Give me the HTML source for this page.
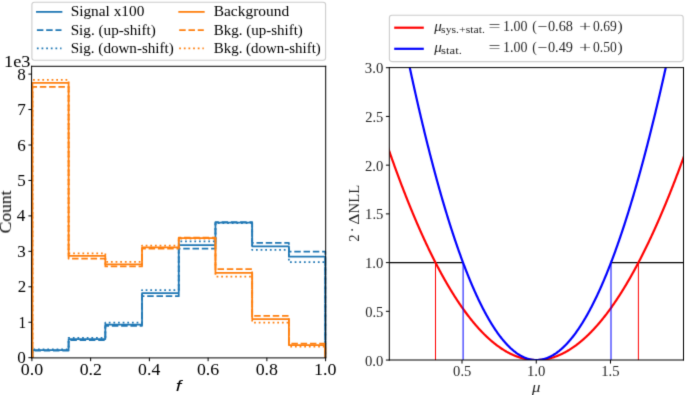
<!DOCTYPE html>
<html><head><meta charset="utf-8"><style>
html,body{margin:0;padding:0;background:#fff;width:685px;height:395px;overflow:hidden}
text{white-space:pre}
</style></head><body><div id="w" style="width:685px;height:395px">
<svg width="685" height="395" viewBox="0 0 685 395" style="display:block;will-change:transform">
<defs><filter id="bl" x="0" y="0" width="685" height="395" filterUnits="userSpaceOnUse" color-interpolation-filters="sRGB"><feConvolveMatrix order="3" kernelMatrix="0.01440 0.09120 0.01440 0.09120 0.57760 0.09120 0.01440 0.09120 0.01440" divisor="1" edgeMode="duplicate" preserveAlpha="true"/></filter></defs>
<rect width="685" height="395" fill="#fff"/>
<g filter="url(#bl)"><rect width="685" height="395" fill="#fff"/>
<defs><clipPath id="cl"><rect x="31.9" y="66.4" width="293.70000000000005" height="291.29999999999995"/></clipPath><clipPath id="cr"><rect x="389.4" y="67.6" width="294.0" height="292.45"/></clipPath></defs>
<g fill="none" stroke-linejoin="round">
<path d="M32.40,357.70 V350.00 H68.61 V339.10 H105.33 V324.50 H142.04 V293.10 H178.75 V245.00 H215.46 V222.50 H252.18 V246.30 H288.89 V256.70 H325.30 V357.70" stroke="#1f77b4" stroke-width="1.75" />
<path d="M32.40,357.70 V350.50 H68.61 V340.00 H105.33 V325.80 H142.04 V296.20 H178.75 V248.70 H215.46 V222.10 H252.18 V242.90 H288.89 V251.50 H325.30 V357.70" stroke="#1f77b4" stroke-width="1.75" stroke-dasharray="6.48 2.80"/>
<path d="M32.40,357.70 V349.40 H68.61 V337.80 H105.33 V322.70 H142.04 V290.00 H178.75 V241.25 H215.46 V223.00 H252.18 V249.85 H288.89 V262.20 H325.30 V357.70" stroke="#1f77b4" stroke-width="1.75" stroke-dasharray="1.75 2.89"/>
<path d="M32.40,357.70 V82.95 H68.61 V255.90 H105.33 V264.30 H142.04 V247.30 H178.75 V238.20 H215.46 V272.90 H252.18 V319.00 H288.89 V345.10 H325.30 V357.70" stroke="#ff7f0e" stroke-width="1.75" />
<path d="M32.40,357.70 V86.75 H68.61 V258.70 H105.33 V266.40 H142.04 V248.60 H178.75 V237.60 H215.46 V269.05 H252.18 V315.90 H288.89 V343.70 H325.30 V357.70" stroke="#ff7f0e" stroke-width="1.75" stroke-dasharray="6.48 2.80"/>
<path d="M32.40,357.70 V79.95 H68.61 V253.30 H105.33 V261.90 H142.04 V245.60 H178.75 V238.50 H215.46 V276.50 H252.18 V322.50 H288.89 V346.60 H325.30 V357.70" stroke="#ff7f0e" stroke-width="1.75" stroke-dasharray="1.75 2.89"/>
</g>
<path d="M31.1,66.3 H326.2 M31.1,357.9 H326.2 M31.6,65.8 V358.4 M325.7,65.8 V358.4" fill="none" stroke="#000" stroke-width="1.0"/>
<path d="M31.90,357.70 v3.5 M90.64,357.70 v3.5 M149.38,357.70 v3.5 M208.12,357.70 v3.5 M266.86,357.70 v3.5 M325.60,357.70 v3.5 M31.90,357.70 h-3.5 M31.90,322.25 h-3.5 M31.90,286.80 h-3.5 M31.90,251.35 h-3.5 M31.90,215.90 h-3.5 M31.90,180.45 h-3.5 M31.90,145.00 h-3.5 M31.90,109.55 h-3.5 M31.90,74.10 h-3.5" stroke="#000" stroke-width="1.0" fill="none"/>
<text x="20.72" y="374.80" font-size="16.00" font-family="Liberation Serif" font-style="normal" textLength="22.36" lengthAdjust="spacingAndGlyphs" fill="#000" >0.0</text>
<text x="79.69" y="374.80" font-size="16.00" font-family="Liberation Serif" font-style="normal" textLength="22.19" lengthAdjust="spacingAndGlyphs" fill="#000" >0.2</text>
<text x="138.09" y="374.80" font-size="16.00" font-family="Liberation Serif" font-style="normal" textLength="22.18" lengthAdjust="spacingAndGlyphs" fill="#000" >0.4</text>
<text x="196.92" y="374.80" font-size="16.00" font-family="Liberation Serif" font-style="normal" textLength="22.25" lengthAdjust="spacingAndGlyphs" fill="#000" >0.6</text>
<text x="255.69" y="374.80" font-size="16.00" font-family="Liberation Serif" font-style="normal" textLength="22.34" lengthAdjust="spacingAndGlyphs" fill="#000" >0.8</text>
<text x="313.93" y="374.80" font-size="16.00" font-family="Liberation Serif" font-style="normal" textLength="22.45" lengthAdjust="spacingAndGlyphs" fill="#000" >1.0</text>
<text x="17.29" y="363.25" font-size="16.00" font-family="Liberation Serif" font-style="normal" textLength="8.56" lengthAdjust="spacingAndGlyphs" fill="#000" >0</text>
<text x="18.50" y="327.80" font-size="16.00" font-family="Liberation Serif" font-style="normal" textLength="7.61" lengthAdjust="spacingAndGlyphs" fill="#000" >1</text>
<text x="17.69" y="292.35" font-size="16.00" font-family="Liberation Serif" font-style="normal" textLength="8.45" lengthAdjust="spacingAndGlyphs" fill="#000" >2</text>
<text x="17.39" y="256.90" font-size="16.00" font-family="Liberation Serif" font-style="normal" textLength="8.47" lengthAdjust="spacingAndGlyphs" fill="#000" >3</text>
<text x="16.87" y="221.45" font-size="16.00" font-family="Liberation Serif" font-style="normal" textLength="8.60" lengthAdjust="spacingAndGlyphs" fill="#000" >4</text>
<text x="17.39" y="186.00" font-size="16.00" font-family="Liberation Serif" font-style="normal" textLength="8.47" lengthAdjust="spacingAndGlyphs" fill="#000" >5</text>
<text x="17.18" y="150.55" font-size="16.00" font-family="Liberation Serif" font-style="normal" textLength="8.53" lengthAdjust="spacingAndGlyphs" fill="#000" >6</text>
<text x="17.16" y="115.10" font-size="16.00" font-family="Liberation Serif" font-style="normal" textLength="8.53" lengthAdjust="spacingAndGlyphs" fill="#000" >7</text>
<text x="17.32" y="79.65" font-size="16.00" font-family="Liberation Serif" font-style="normal" textLength="8.53" lengthAdjust="spacingAndGlyphs" fill="#000" >8</text>
<text x="4.10" y="67.00" font-size="16.00" font-family="Liberation Serif" font-style="normal" textLength="26.33" lengthAdjust="spacingAndGlyphs" fill="#000" >1e3</text>
<text transform="translate(11.00,233.42) rotate(-90)" x="0" y="0" font-size="16.00" font-family="Liberation Serif" font-style="normal" textLength="42.92" lengthAdjust="spacingAndGlyphs" fill="#000" >Count</text>
<text x="175.83" y="390.80" font-size="15.00" font-family="Liberation Sans" font-style="italic" textLength="5.55" lengthAdjust="spacingAndGlyphs" fill="#000" >f</text>
<rect x="31.9" y="2.3" width="293.7" height="57.9" rx="2.5" fill="#fff" fill-opacity="0.8" stroke="#cccccc" stroke-width="1.1"/>
<path d="M36.9,11.9 h24.6" stroke="#1f77b4" stroke-width="1.75" stroke-linecap="square" fill="none"/>
<text x="70.67" y="16.40" font-size="13.60" font-family="Liberation Serif" font-style="normal" textLength="73.68" lengthAdjust="spacingAndGlyphs" fill="#000" >Signal x100</text>
<path d="M179.2,11.9 h24.6" stroke="#ff7f0e" stroke-width="1.75" stroke-linecap="square" fill="none"/>
<text x="213.76" y="16.40" font-size="13.60" font-family="Liberation Serif" font-style="normal" textLength="75.36" lengthAdjust="spacingAndGlyphs" fill="#000" >Background</text>
<path d="M36.9,30.1 h24.6" stroke="#1f77b4" stroke-width="1.75" stroke-dasharray="6.48 2.80" fill="none"/>
<text x="70.68" y="34.60" font-size="13.60" font-family="Liberation Serif" font-style="normal" textLength="85.14" lengthAdjust="spacingAndGlyphs" fill="#000" >Sig. (up-shift)</text>
<path d="M179.2,30.1 h24.6" stroke="#ff7f0e" stroke-width="1.75" stroke-dasharray="6.48 2.80" fill="none"/>
<text x="213.77" y="34.60" font-size="13.60" font-family="Liberation Serif" font-style="normal" textLength="89.05" lengthAdjust="spacingAndGlyphs" fill="#000" >Bkg. (up-shift)</text>
<path d="M36.9,48.4 h24.6" stroke="#1f77b4" stroke-width="1.75" stroke-dasharray="1.75 2.89" fill="none"/>
<text x="70.69" y="52.80" font-size="13.60" font-family="Liberation Serif" font-style="normal" textLength="103.11" lengthAdjust="spacingAndGlyphs" fill="#000" >Sig. (down-shift)</text>
<path d="M179.2,48.4 h24.6" stroke="#ff7f0e" stroke-width="1.75" stroke-dasharray="1.75 2.89" fill="none"/>
<text x="213.77" y="52.80" font-size="13.60" font-family="Liberation Serif" font-style="normal" textLength="107.02" lengthAdjust="spacingAndGlyphs" fill="#000" >Bkg. (down-shift)</text>
<g clip-path="url(#cr)" fill="none">
<path d="M389.4,262.60 H463.04 M611.00,262.60 H683.4" stroke="#000" stroke-width="1.1"/>
<polyline points="387.75,146.80 388.12,147.88 388.49,148.95 388.86,150.03 389.24,151.09 389.61,152.16 389.98,153.22 390.35,154.28 390.72,155.34 391.09,156.40 391.46,157.45 391.83,158.50 392.20,159.54 392.58,160.59 392.95,161.63 393.32,162.67 393.69,163.70 394.06,164.73 394.43,165.76 394.80,166.79 395.18,167.81 395.55,168.84 395.92,169.85 396.29,170.87 396.66,171.88 397.03,172.89 397.40,173.90 397.77,174.91 398.14,175.91 398.52,176.91 398.89,177.90 399.26,178.90 399.63,179.89 400.00,180.88 400.37,181.86 400.74,182.84 401.12,183.82 401.49,184.80 401.86,185.77 402.23,186.75 402.60,187.71 402.97,188.68 403.34,189.64 403.71,190.60 404.08,191.56 404.46,192.52 404.83,193.47 405.20,194.42 405.57,195.36 405.94,196.31 406.31,197.25 406.68,198.19 407.06,199.12 407.43,200.06 407.80,200.98 408.17,201.91 408.54,202.84 408.91,203.76 409.28,204.68 409.65,205.59 410.02,206.51 410.40,207.42 410.77,208.33 411.14,209.23 411.51,210.13 411.88,211.03 412.25,211.93 412.62,212.82 413.00,213.71 413.37,214.60 413.74,215.49 414.11,216.37 414.48,217.25 414.85,218.13 415.22,219.00 415.59,219.88 415.97,220.75 416.34,221.61 416.71,222.48 417.08,223.34 417.45,224.20 417.82,225.05 418.19,225.90 418.56,226.75 418.94,227.60 419.31,228.45 419.68,229.29 420.05,230.13 420.42,230.96 420.79,231.80 421.16,232.63 421.53,233.45 421.90,234.28 422.28,235.10 422.65,235.92 423.02,236.74 423.39,237.55 423.76,238.37 424.13,239.17 424.50,239.98 424.88,240.78 425.25,241.58 425.62,242.38 425.99,243.18 426.36,243.97 426.73,244.76 427.10,245.55 427.47,246.33 427.85,247.11 428.22,247.89 428.59,248.67 428.96,249.44 429.33,250.21 429.70,250.98 430.07,251.74 430.44,252.50 430.81,253.26 431.19,254.02 431.56,254.78 431.93,255.53 432.30,256.27 432.67,257.02 433.04,257.76 433.41,258.50 433.79,259.24 434.16,259.98 434.53,260.71 434.90,261.44 435.27,262.17 435.64,262.89 436.01,263.61 436.38,264.33 436.75,265.04 437.13,265.76 437.50,266.47 437.87,267.18 438.24,267.88 438.61,268.58 438.98,269.28 439.35,269.98 439.73,270.67 440.10,271.36 440.47,272.05 440.84,272.74 441.21,273.42 441.58,274.10 441.95,274.78 442.32,275.46 442.69,276.13 443.07,276.80 443.44,277.46 443.81,278.13 444.18,278.79 444.55,279.45 444.92,280.10 445.29,280.76 445.67,281.41 446.04,282.06 446.41,282.70 446.78,283.34 447.15,283.98 447.52,284.62 447.89,285.25 448.26,285.89 448.63,286.51 449.01,287.14 449.38,287.76 449.75,288.38 450.12,289.00 450.49,289.62 450.86,290.23 451.23,290.84 451.61,291.45 451.98,292.05 452.35,292.65 452.72,293.25 453.09,293.85 453.46,294.44 453.83,295.03 454.20,295.62 454.57,296.21 454.95,296.79 455.32,297.37 455.69,297.95 456.06,298.52 456.43,299.09 456.80,299.66 457.17,300.23 457.55,300.79 457.92,301.35 458.29,301.91 458.66,302.47 459.03,303.02 459.40,303.57 459.77,304.12 460.14,304.66 460.51,305.21 460.89,305.74 461.26,306.28 461.63,306.82 462.00,307.35 462.37,307.88 462.74,308.40 463.11,308.93 463.49,309.45 463.86,309.96 464.23,310.48 464.60,310.99 464.97,311.50 465.34,312.01 465.71,312.51 466.08,313.01 466.45,313.51 466.83,314.01 467.20,314.50 467.57,315.00 467.94,315.48 468.31,315.97 468.68,316.45 469.05,316.93 469.43,317.41 469.80,317.88 470.17,318.36 470.54,318.83 470.91,319.29 471.28,319.76 471.65,320.22 472.02,320.68 472.39,321.13 472.77,321.59 473.14,322.04 473.51,322.49 473.88,322.93 474.25,323.37 474.62,323.81 474.99,324.25 475.37,324.69 475.74,325.12 476.11,325.55 476.48,325.97 476.85,326.40 477.22,326.82 477.59,327.24 477.96,327.65 478.33,328.07 478.71,328.48 479.08,328.89 479.45,329.29 479.82,329.69 480.19,330.09 480.56,330.49 480.93,330.88 481.31,331.28 481.68,331.67 482.05,332.05 482.42,332.44 482.79,332.82 483.16,333.20 483.53,333.57 483.90,333.94 484.27,334.32 484.65,334.68 485.02,335.05 485.39,335.41 485.76,335.77 486.13,336.13 486.50,336.48 486.87,336.83 487.25,337.18 487.62,337.53 487.99,337.87 488.36,338.21 488.73,338.55 489.10,338.89 489.47,339.22 489.84,339.55 490.22,339.88 490.59,340.21 490.96,340.53 491.33,340.85 491.70,341.16 492.07,341.48 492.44,341.79 492.81,342.10 493.19,342.41 493.56,342.71 493.93,343.01 494.30,343.31 494.67,343.61 495.04,343.90 495.41,344.19 495.78,344.48 496.15,344.76 496.53,345.05 496.90,345.33 497.27,345.60 497.64,345.88 498.01,346.15 498.38,346.42 498.75,346.69 499.12,346.95 499.50,347.21 499.87,347.47 500.24,347.73 500.61,347.98 500.98,348.23 501.35,348.48 501.72,348.72 502.10,348.97 502.47,349.21 502.84,349.45 503.21,349.68 503.58,349.91 503.95,350.14 504.32,350.37 504.69,350.59 505.06,350.82 505.44,351.03 505.81,351.25 506.18,351.46 506.55,351.68 506.92,351.88 507.29,352.09 507.66,352.29 508.04,352.49 508.41,352.69 508.78,352.89 509.15,353.08 509.52,353.27 509.89,353.46 510.26,353.64 510.63,353.82 511.00,354.00 511.38,354.18 511.75,354.36 512.12,354.53 512.49,354.70 512.86,354.86 513.23,355.03 513.60,355.19 513.98,355.35 514.35,355.50 514.72,355.65 515.09,355.80 515.46,355.95 515.83,356.10 516.20,356.24 516.57,356.38 516.95,356.52 517.32,356.65 517.69,356.78 518.06,356.91 518.43,357.04 518.80,357.17 519.17,357.29 519.54,357.41 519.91,357.52 520.29,357.64 520.66,357.75 521.03,357.86 521.40,357.96 521.77,358.06 522.14,358.17 522.51,358.26 522.88,358.36 523.26,358.45 523.63,358.54 524.00,358.63 524.37,358.71 524.74,358.80 525.11,358.88 525.48,358.95 525.86,359.03 526.23,359.10 526.60,359.17 526.97,359.23 527.34,359.30 527.71,359.36 528.08,359.42 528.45,359.47 528.83,359.53 529.20,359.58 529.57,359.63 529.94,359.67 530.31,359.72 530.68,359.76 531.05,359.79 531.42,359.83 531.79,359.86 532.17,359.89 532.54,359.92 532.91,359.94 533.28,359.97 533.65,359.99 534.02,360.00 534.39,360.02 534.76,360.03 535.14,360.04 535.51,360.04 535.88,360.05 536.25,360.05 536.62,360.05 536.99,360.04 537.36,360.04 537.74,360.03 538.11,360.02 538.48,360.00 538.85,359.99 539.22,359.97 539.59,359.95 539.96,359.92 540.33,359.89 540.71,359.86 541.08,359.83 541.45,359.80 541.82,359.76 542.19,359.72 542.56,359.68 542.93,359.63 543.30,359.59 543.67,359.54 544.05,359.48 544.42,359.43 544.79,359.37 545.16,359.31 545.53,359.25 545.90,359.18 546.27,359.11 546.64,359.04 547.02,358.97 547.39,358.89 547.76,358.81 548.13,358.73 548.50,358.65 548.87,358.56 549.24,358.47 549.62,358.38 549.99,358.29 550.36,358.19 550.73,358.09 551.10,357.99 551.47,357.89 551.84,357.78 552.21,357.67 552.59,357.56 552.96,357.44 553.33,357.33 553.70,357.21 554.07,357.09 554.44,356.96 554.81,356.83 555.18,356.70 555.56,356.57 555.93,356.44 556.30,356.30 556.67,356.16 557.04,356.01 557.41,355.87 557.78,355.72 558.15,355.57 558.52,355.42 558.90,355.26 559.27,355.10 559.64,354.94 560.01,354.78 560.38,354.61 560.75,354.45 561.12,354.27 561.50,354.10 561.87,353.92 562.24,353.75 562.61,353.56 562.98,353.38 563.35,353.19 563.72,353.00 564.09,352.81 564.47,352.62 564.84,352.42 565.21,352.22 565.58,352.02 565.95,351.81 566.32,351.61 566.69,351.40 567.06,351.19 567.43,350.97 567.81,350.75 568.18,350.53 568.55,350.31 568.92,350.09 569.29,349.86 569.66,349.63 570.03,349.39 570.40,349.16 570.78,348.92 571.15,348.68 571.52,348.44 571.89,348.19 572.26,347.94 572.63,347.69 573.00,347.44 573.38,347.18 573.75,346.92 574.12,346.66 574.49,346.40 574.86,346.13 575.23,345.86 575.60,345.59 575.97,345.32 576.35,345.04 576.72,344.76 577.09,344.48 577.46,344.20 577.83,343.91 578.20,343.62 578.57,343.33 578.94,343.03 579.32,342.74 579.69,342.44 580.06,342.13 580.43,341.83 580.80,341.52 581.17,341.21 581.54,340.90 581.91,340.58 582.28,340.27 582.66,339.94 583.03,339.62 583.40,339.30 583.77,338.97 584.14,338.64 584.51,338.30 584.88,337.97 585.25,337.63 585.63,337.29 586.00,336.95 586.37,336.60 586.74,336.25 587.11,335.90 587.48,335.55 587.85,335.19 588.23,334.83 588.60,334.47 588.97,334.10 589.34,333.74 589.71,333.37 590.08,333.00 590.45,332.62 590.82,332.25 591.20,331.87 591.57,331.48 591.94,331.10 592.31,330.71 592.68,330.32 593.05,329.93 593.42,329.53 593.79,329.14 594.16,328.74 594.54,328.33 594.91,327.93 595.28,327.52 595.65,327.11 596.02,326.70 596.39,326.28 596.76,325.86 597.13,325.44 597.51,325.02 597.88,324.59 598.25,324.16 598.62,323.73 598.99,323.30 599.36,322.86 599.73,322.42 600.11,321.98 600.48,321.54 600.85,321.09 601.22,320.64 601.59,320.19 601.96,319.74 602.33,319.28 602.70,318.82 603.08,318.36 603.45,317.90 603.82,317.43 604.19,316.96 604.56,316.49 604.93,316.01 605.30,315.53 605.67,315.05 606.04,314.57 606.42,314.09 606.79,313.60 607.16,313.11 607.53,312.62 607.90,312.12 608.27,311.62 608.64,311.12 609.01,310.62 609.39,310.11 609.76,309.61 610.13,309.09 610.50,308.58 610.87,308.07 611.24,307.55 611.61,307.03 611.99,306.50 612.36,305.98 612.73,305.45 613.10,304.92 613.47,304.38 613.84,303.84 614.21,303.31 614.58,302.76 614.96,302.22 615.33,301.67 615.70,301.12 616.07,300.57 616.44,300.02 616.81,299.46 617.18,298.90 617.55,298.34 617.92,297.77 618.30,297.21 618.67,296.64 619.04,296.06 619.41,295.49 619.78,294.91 620.15,294.33 620.52,293.75 620.89,293.16 621.27,292.57 621.64,291.98 622.01,291.39 622.38,290.79 622.75,290.20 623.12,289.59 623.49,288.99 623.87,288.38 624.24,287.78 624.61,287.16 624.98,286.55 625.35,285.93 625.72,285.32 626.09,284.69 626.46,284.07 626.84,283.44 627.21,282.81 627.58,282.18 627.95,281.55 628.32,280.91 628.69,280.27 629.06,279.63 629.43,278.99 629.81,278.34 630.18,277.69 630.55,277.04 630.92,276.38 631.29,275.72 631.66,275.06 632.03,274.40 632.40,273.74 632.77,273.07 633.15,272.40 633.52,271.72 633.89,271.05 634.26,270.37 634.63,269.69 635.00,269.01 635.37,268.32 635.75,267.63 636.12,266.94 636.49,266.25 636.86,265.55 637.23,264.85 637.60,264.15 637.97,263.45 638.34,262.74 638.72,262.03 639.09,261.32 639.46,260.61 639.83,259.89 640.20,259.17 640.57,258.45 640.94,257.72 641.31,257.00 641.68,256.27 642.06,255.54 642.43,254.80 642.80,254.06 643.17,253.32 643.54,252.58 643.91,251.84 644.28,251.09 644.65,250.34 645.03,249.59 645.40,248.83 645.77,248.07 646.14,247.31 646.51,246.55 646.88,245.78 647.25,245.02 647.62,244.24 648.00,243.47 648.37,242.70 648.74,241.92 649.11,241.14 649.48,240.35 649.85,239.57 650.22,238.78 650.60,237.99 650.97,237.19 651.34,236.40 651.71,235.60 652.08,234.80 652.45,233.99 652.82,233.18 653.19,232.37 653.57,231.56 653.94,230.75 654.31,229.93 654.68,229.11 655.05,228.29 655.42,227.46 655.79,226.64 656.16,225.81 656.53,224.97 656.91,224.14 657.28,223.30 657.65,222.46 658.02,221.62 658.39,220.77 658.76,219.93 659.13,219.08 659.50,218.22 659.88,217.37 660.25,216.51 660.62,215.65 660.99,214.78 661.36,213.92 661.73,213.05 662.10,212.18 662.48,211.30 662.85,210.43 663.22,209.55 663.59,208.67 663.96,207.78 664.33,206.90 664.70,206.01 665.07,205.12 665.45,204.22 665.82,203.33 666.19,202.43 666.56,201.52 666.93,200.62 667.30,199.71 667.67,198.80 668.04,197.89 668.41,196.98 668.79,196.06 669.16,195.14 669.53,194.22 669.90,193.29 670.27,192.36 670.64,191.43 671.01,190.50 671.38,189.56 671.76,188.63 672.13,187.69 672.50,186.74 672.87,185.80 673.24,184.85 673.61,183.90 673.98,182.94 674.36,181.99 674.73,181.03 675.10,180.07 675.47,179.10 675.84,178.14 676.21,177.17 676.58,176.20 676.95,175.22 677.33,174.25 677.70,173.27 678.07,172.29 678.44,171.30 678.81,170.32 679.18,169.33 679.55,168.33 679.92,167.34 680.29,166.34 680.67,165.34 681.04,164.34 681.41,163.33 681.78,162.33 682.15,161.32 682.52,160.30 682.89,159.29 683.26,158.27 683.64,157.25 684.01,156.23 684.38,155.20 684.75,154.17" stroke="#ff0000" stroke-width="2.2" stroke-linejoin="round"/>
<path d="M435.5,262.60 V360.05 M638.4,262.60 V360.05" stroke="#ff0000" stroke-width="1.0"/>
<path d="M463.1,262.60 V360.05 M611.0,262.60 V360.05" stroke="#0000ff" stroke-width="1.0"/>
<polyline points="403.71,38.81 404.08,40.62 404.46,42.42 404.83,44.22 405.20,46.02 405.57,47.80 405.94,49.59 406.31,51.36 406.68,53.14 407.06,54.90 407.43,56.67 407.80,58.42 408.17,60.18 408.54,61.92 408.91,63.66 409.28,65.40 409.65,67.13 410.02,68.86 410.40,70.58 410.77,72.29 411.14,74.00 411.51,75.71 411.88,77.41 412.25,79.10 412.62,80.79 413.00,82.48 413.37,84.16 413.74,85.83 414.11,87.50 414.48,89.17 414.85,90.83 415.22,92.48 415.59,94.13 415.97,95.77 416.34,97.41 416.71,99.04 417.08,100.67 417.45,102.29 417.82,103.91 418.19,105.52 418.56,107.13 418.94,108.73 419.31,110.33 419.68,111.92 420.05,113.51 420.42,115.09 420.79,116.67 421.16,118.24 421.53,119.81 421.90,121.37 422.28,122.92 422.65,124.47 423.02,126.02 423.39,127.56 423.76,129.10 424.13,130.63 424.50,132.15 424.88,133.67 425.25,135.19 425.62,136.70 425.99,138.20 426.36,139.70 426.73,141.19 427.10,142.68 427.47,144.17 427.85,145.65 428.22,147.12 428.59,148.59 428.96,150.05 429.33,151.51 429.70,152.96 430.07,154.41 430.44,155.85 430.81,157.29 431.19,158.73 431.56,160.15 431.93,161.58 432.30,162.99 432.67,164.40 433.04,165.81 433.41,167.21 433.79,168.61 434.16,170.00 434.53,171.39 434.90,172.77 435.27,174.15 435.64,175.52 436.01,176.88 436.38,178.24 436.75,179.60 437.13,180.95 437.50,182.30 437.87,183.64 438.24,184.97 438.61,186.30 438.98,187.63 439.35,188.95 439.73,190.26 440.10,191.57 440.47,192.88 440.84,194.18 441.21,195.47 441.58,196.76 441.95,198.04 442.32,199.32 442.69,200.60 443.07,201.86 443.44,203.13 443.81,204.39 444.18,205.64 444.55,206.89 444.92,208.13 445.29,209.37 445.67,210.60 446.04,211.83 446.41,213.05 446.78,214.27 447.15,215.48 447.52,216.69 447.89,217.89 448.26,219.09 448.63,220.28 449.01,221.47 449.38,222.65 449.75,223.83 450.12,225.00 450.49,226.17 450.86,227.33 451.23,228.48 451.61,229.64 451.98,230.78 452.35,231.92 452.72,233.06 453.09,234.19 453.46,235.32 453.83,236.44 454.20,237.55 454.57,238.66 454.95,239.77 455.32,240.87 455.69,241.96 456.06,243.05 456.43,244.14 456.80,245.22 457.17,246.29 457.55,247.36 457.92,248.43 458.29,249.49 458.66,250.54 459.03,251.59 459.40,252.64 459.77,253.67 460.14,254.71 460.51,255.74 460.89,256.76 461.26,257.78 461.63,258.79 462.00,259.80 462.37,260.81 462.74,261.80 463.11,262.80 463.49,263.79 463.86,264.77 464.23,265.75 464.60,266.72 464.97,267.69 465.34,268.65 465.71,269.61 466.08,270.56 466.45,271.51 466.83,272.45 467.20,273.39 467.57,274.32 467.94,275.25 468.31,276.17 468.68,277.09 469.05,278.00 469.43,278.91 469.80,279.81 470.17,280.71 470.54,281.60 470.91,282.49 471.28,283.37 471.65,284.24 472.02,285.12 472.39,285.98 472.77,286.84 473.14,287.70 473.51,288.55 473.88,289.40 474.25,290.24 474.62,291.08 474.99,291.91 475.37,292.73 475.74,293.55 476.11,294.37 476.48,295.18 476.85,295.99 477.22,296.79 477.59,297.58 477.96,298.37 478.33,299.16 478.71,299.94 479.08,300.71 479.45,301.48 479.82,302.25 480.19,303.01 480.56,303.76 480.93,304.51 481.31,305.26 481.68,306.00 482.05,306.73 482.42,307.46 482.79,308.19 483.16,308.91 483.53,309.62 483.90,310.33 484.27,311.04 484.65,311.74 485.02,312.43 485.39,313.12 485.76,313.80 486.13,314.48 486.50,315.16 486.87,315.83 487.25,316.49 487.62,317.15 487.99,317.80 488.36,318.45 488.73,319.10 489.10,319.74 489.47,320.37 489.84,321.00 490.22,321.62 490.59,322.24 490.96,322.85 491.33,323.46 491.70,324.07 492.07,324.66 492.44,325.26 492.81,325.85 493.19,326.43 493.56,327.01 493.93,327.58 494.30,328.15 494.67,328.71 495.04,329.27 495.41,329.82 495.78,330.37 496.15,330.92 496.53,331.45 496.90,331.99 497.27,332.52 497.64,333.04 498.01,333.56 498.38,334.07 498.75,334.58 499.12,335.08 499.50,335.58 499.87,336.07 500.24,336.56 500.61,337.04 500.98,337.52 501.35,337.99 501.72,338.46 502.10,338.92 502.47,339.38 502.84,339.83 503.21,340.28 503.58,340.72 503.95,341.16 504.32,341.59 504.69,342.02 505.06,342.44 505.44,342.86 505.81,343.27 506.18,343.68 506.55,344.08 506.92,344.48 507.29,344.87 507.66,345.26 508.04,345.64 508.41,346.02 508.78,346.39 509.15,346.76 509.52,347.12 509.89,347.48 510.26,347.83 510.63,348.18 511.00,348.52 511.38,348.85 511.75,349.19 512.12,349.51 512.49,349.84 512.86,350.15 513.23,350.46 513.60,350.77 513.98,351.07 514.35,351.37 514.72,351.66 515.09,351.95 515.46,352.23 515.83,352.51 516.20,352.78 516.57,353.05 516.95,353.31 517.32,353.57 517.69,353.82 518.06,354.07 518.43,354.31 518.80,354.54 519.17,354.78 519.54,355.00 519.91,355.23 520.29,355.44 520.66,355.65 521.03,355.86 521.40,356.06 521.77,356.26 522.14,356.45 522.51,356.64 522.88,356.82 523.26,357.00 523.63,357.17 524.00,357.34 524.37,357.50 524.74,357.66 525.11,357.81 525.48,357.96 525.86,358.10 526.23,358.23 526.60,358.37 526.97,358.49 527.34,358.62 527.71,358.73 528.08,358.84 528.45,358.95 528.83,359.05 529.20,359.15 529.57,359.24 529.94,359.33 530.31,359.41 530.68,359.49 531.05,359.56 531.42,359.63 531.79,359.69 532.17,359.75 532.54,359.80 532.91,359.85 533.28,359.89 533.65,359.93 534.02,359.96 534.39,359.99 534.76,360.01 535.14,360.03 535.51,360.04 535.88,360.05 536.25,360.05 536.62,360.05 536.99,360.04 537.36,360.03 537.74,360.01 538.11,359.99 538.48,359.96 538.85,359.93 539.22,359.90 539.59,359.86 539.96,359.81 540.33,359.76 540.71,359.70 541.08,359.64 541.45,359.58 541.82,359.51 542.19,359.43 542.56,359.36 542.93,359.27 543.30,359.18 543.67,359.09 544.05,358.99 544.42,358.89 544.79,358.78 545.16,358.67 545.53,358.55 545.90,358.43 546.27,358.30 546.64,358.17 547.02,358.03 547.39,357.89 547.76,357.74 548.13,357.59 548.50,357.43 548.87,357.27 549.24,357.11 549.62,356.94 549.99,356.76 550.36,356.58 550.73,356.39 551.10,356.20 551.47,356.01 551.84,355.81 552.21,355.61 552.59,355.40 552.96,355.18 553.33,354.96 553.70,354.74 554.07,354.51 554.44,354.28 554.81,354.04 555.18,353.80 555.56,353.55 555.93,353.30 556.30,353.04 556.67,352.78 557.04,352.51 557.41,352.24 557.78,351.96 558.15,351.68 558.52,351.40 558.90,351.11 559.27,350.81 559.64,350.51 560.01,350.21 560.38,349.90 560.75,349.58 561.12,349.26 561.50,348.94 561.87,348.61 562.24,348.27 562.61,347.93 562.98,347.59 563.35,347.24 563.72,346.89 564.09,346.53 564.47,346.17 564.84,345.80 565.21,345.43 565.58,345.05 565.95,344.67 566.32,344.28 566.69,343.89 567.06,343.49 567.43,343.09 567.81,342.69 568.18,342.27 568.55,341.86 568.92,341.44 569.29,341.01 569.66,340.58 570.03,340.15 570.40,339.71 570.78,339.26 571.15,338.81 571.52,338.36 571.89,337.90 572.26,337.44 572.63,336.97 573.00,336.49 573.38,336.02 573.75,335.53 574.12,335.04 574.49,334.55 574.86,334.05 575.23,333.55 575.60,333.04 575.97,332.53 576.35,332.02 576.72,331.49 577.09,330.97 577.46,330.44 577.83,329.90 578.20,329.36 578.57,328.81 578.94,328.26 579.32,327.71 579.69,327.15 580.06,326.58 580.43,326.01 580.80,325.44 581.17,324.86 581.54,324.28 581.91,323.69 582.28,323.09 582.66,322.50 583.03,321.89 583.40,321.28 583.77,320.67 584.14,320.05 584.51,319.43 584.88,318.80 585.25,318.17 585.63,317.54 586.00,316.89 586.37,316.25 586.74,315.60 587.11,314.94 587.48,314.28 587.85,313.61 588.23,312.94 588.60,312.27 588.97,311.59 589.34,310.90 589.71,310.21 590.08,309.52 590.45,308.82 590.82,308.11 591.20,307.40 591.57,306.69 591.94,305.97 592.31,305.25 592.68,304.52 593.05,303.79 593.42,303.05 593.79,302.31 594.16,301.56 594.54,300.81 594.91,300.05 595.28,299.29 595.65,298.52 596.02,297.75 596.39,296.97 596.76,296.19 597.13,295.41 597.51,294.62 597.88,293.82 598.25,293.02 598.62,292.21 598.99,291.41 599.36,290.59 599.73,289.77 600.11,288.95 600.48,288.12 600.85,287.28 601.22,286.44 601.59,285.60 601.96,284.75 602.33,283.90 602.70,283.04 603.08,282.18 603.45,281.31 603.82,280.44 604.19,279.56 604.56,278.68 604.93,277.79 605.30,276.90 605.67,276.00 606.04,275.10 606.42,274.20 606.79,273.29 607.16,272.37 607.53,271.45 607.90,270.52 608.27,269.59 608.64,268.66 609.01,267.72 609.39,266.77 609.76,265.83 610.13,264.87 610.50,263.91 610.87,262.95 611.24,261.98 611.61,261.01 611.99,260.03 612.36,259.04 612.73,258.06 613.10,257.06 613.47,256.07 613.84,255.06 614.21,254.06 614.58,253.05 614.96,252.03 615.33,251.01 615.70,249.98 616.07,248.95 616.44,247.91 616.81,246.87 617.18,245.83 617.55,244.78 617.92,243.72 618.30,242.66 618.67,241.60 619.04,240.53 619.41,239.45 619.78,238.38 620.15,237.29 620.52,236.20 620.89,235.11 621.27,234.01 621.64,232.91 622.01,231.80 622.38,230.69 622.75,229.57 623.12,228.45 623.49,227.32 623.87,226.19 624.24,225.05 624.61,223.91 624.98,222.76 625.35,221.61 625.72,220.46 626.09,219.29 626.46,218.13 626.84,216.96 627.21,215.78 627.58,214.60 627.95,213.42 628.32,212.23 628.69,211.03 629.06,209.83 629.43,208.63 629.81,207.42 630.18,206.21 630.55,204.99 630.92,203.77 631.29,202.54 631.66,201.30 632.03,200.07 632.40,198.82 632.77,197.58 633.15,196.32 633.52,195.07 633.89,193.81 634.26,192.54 634.63,191.27 635.00,189.99 635.37,188.71 635.75,187.42 636.12,186.13 636.49,184.84 636.86,183.54 637.23,182.23 637.60,180.92 637.97,179.61 638.34,178.29 638.72,176.96 639.09,175.64 639.46,174.30 639.83,172.96 640.20,171.62 640.57,170.27 640.94,168.92 641.31,167.56 641.68,166.20 642.06,164.83 642.43,163.46 642.80,162.08 643.17,160.70 643.54,159.31 643.91,157.92 644.28,156.52 644.65,155.12 645.03,153.72 645.40,152.31 645.77,150.89 646.14,149.47 646.51,148.04 646.88,146.61 647.25,145.18 647.62,143.74 648.00,142.29 648.37,140.85 648.74,139.39 649.11,137.93 649.48,136.47 649.85,135.00 650.22,133.53 650.60,132.05 650.97,130.57 651.34,129.08 651.71,127.59 652.08,126.09 652.45,124.59 652.82,123.08 653.19,121.57 653.57,120.05 653.94,118.53 654.31,117.00 654.68,115.47 655.05,113.94 655.42,112.40 655.79,110.85 656.16,109.30 656.53,107.75 656.91,106.19 657.28,104.62 657.65,103.05 658.02,101.48 658.39,99.90 658.76,98.31 659.13,96.73 659.50,95.13 659.88,93.53 660.25,91.93 660.62,90.32 660.99,88.71 661.36,87.09 661.73,85.47 662.10,83.84 662.48,82.21 662.85,80.57 663.22,78.93 663.59,77.29 663.96,75.64 664.33,73.98 664.70,72.32 665.07,70.65 665.45,68.98 665.82,67.31 666.19,65.63 666.56,63.94 666.93,62.25 667.30,60.56 667.67,58.86 668.04,57.15 668.41,55.45 668.79,53.73 669.16,52.01 669.53,50.29 669.90,48.56 670.27,46.83 670.64,45.09 671.01,43.35 671.38,41.60 671.76,39.85" stroke="#0000ff" stroke-width="2.2" stroke-linejoin="round"/>
</g>
<path d="M388.8,67.6 H684.0 M388.8,360.0 H684.0 M389.3,67.1 V360.5 M683.5,67.1 V360.5" fill="none" stroke="#000" stroke-width="1.0"/>
<path d="M462.00,360.05 v3.5 M536.25,360.05 v3.5 M610.50,360.05 v3.5 M389.4,360.05 h-3.5 M389.4,311.32 h-3.5 M389.4,262.60 h-3.5 M389.4,213.88 h-3.5 M389.4,165.15 h-3.5 M389.4,116.43 h-3.5 M389.4,67.70 h-3.5" stroke="#000" stroke-width="1.0" fill="none"/>
<text x="453.10" y="376.20" font-size="14.60" font-family="Liberation Serif" font-style="normal" textLength="18.22" lengthAdjust="spacingAndGlyphs" fill="#262626" >0.5</text>
<text x="526.88" y="376.20" font-size="14.60" font-family="Liberation Serif" font-style="normal" textLength="18.41" lengthAdjust="spacingAndGlyphs" fill="#262626" >1.0</text>
<text x="601.21" y="376.20" font-size="14.60" font-family="Liberation Serif" font-style="normal" textLength="18.26" lengthAdjust="spacingAndGlyphs" fill="#262626" >1.5</text>
<text x="364.99" y="365.65" font-size="14.60" font-family="Liberation Serif" font-style="normal" textLength="18.37" lengthAdjust="spacingAndGlyphs" fill="#262626" >0.0</text>
<text x="365.15" y="316.93" font-size="14.60" font-family="Liberation Serif" font-style="normal" textLength="18.22" lengthAdjust="spacingAndGlyphs" fill="#262626" >0.5</text>
<text x="364.95" y="268.20" font-size="14.60" font-family="Liberation Serif" font-style="normal" textLength="18.41" lengthAdjust="spacingAndGlyphs" fill="#262626" >1.0</text>
<text x="365.11" y="219.47" font-size="14.60" font-family="Liberation Serif" font-style="normal" textLength="18.26" lengthAdjust="spacingAndGlyphs" fill="#262626" >1.5</text>
<text x="365.06" y="170.75" font-size="14.60" font-family="Liberation Serif" font-style="normal" textLength="18.29" lengthAdjust="spacingAndGlyphs" fill="#262626" >2.0</text>
<text x="365.22" y="122.03" font-size="14.60" font-family="Liberation Serif" font-style="normal" textLength="18.14" lengthAdjust="spacingAndGlyphs" fill="#262626" >2.5</text>
<text x="364.89" y="73.30" font-size="14.60" font-family="Liberation Serif" font-style="normal" textLength="18.48" lengthAdjust="spacingAndGlyphs" fill="#262626" >3.0</text>
<text x="532.12" y="391.70" font-size="14.60" font-family="Liberation Serif" font-style="italic" textLength="8.44" lengthAdjust="spacingAndGlyphs" fill="#262626" >μ</text>
<text transform="translate(359.30,241.84) rotate(-90)" x="0" y="0" font-size="14.60" font-family="Liberation Serif" font-style="normal" textLength="7.23" lengthAdjust="spacingAndGlyphs" fill="#262626" >2</text>
<text transform="translate(357.10,232.54) rotate(-90)" x="0" y="0" font-size="14.60" font-family="Liberation Serif" font-style="normal" textLength="5.07" lengthAdjust="spacingAndGlyphs" fill="#262626" >·</text>
<text transform="translate(359.30,224.66) rotate(-90)" x="0" y="0" font-size="14.60" font-family="Liberation Serif" font-style="normal" textLength="11.11" lengthAdjust="spacingAndGlyphs" fill="#262626" >Δ</text>
<text transform="translate(359.30,213.42) rotate(-90)" x="0" y="0" font-size="14.60" font-family="Liberation Serif" font-style="normal" textLength="28.61" lengthAdjust="spacingAndGlyphs" fill="#262626" >NLL</text>
<rect x="389.4" y="15.3" width="293.8" height="46.3" rx="2.5" fill="#fff" fill-opacity="0.8" stroke="#cccccc" stroke-width="1.1"/>
<path d="M394.2,27.7 h29.6" stroke="#ff0000" stroke-width="2.2"/>
<path d="M394.2,48.8 h29.6" stroke="#0000ff" stroke-width="2.2"/>
<text x="434.31" y="30.80" font-size="14.60" font-family="Liberation Serif" font-style="italic" textLength="7.59" lengthAdjust="spacingAndGlyphs" fill="#262626" >μ</text>
<text x="441.12" y="33.10" font-size="10.40" font-family="Liberation Serif" font-style="normal" textLength="43.75" lengthAdjust="spacingAndGlyphs" fill="#262626" >sys.+stat.</text>
<text x="488.64" y="31.40" font-size="14.60" font-family="Liberation Serif" font-style="normal" textLength="12.00" lengthAdjust="spacingAndGlyphs" fill="#262626" >=</text>
<text x="503.07" y="30.80" font-size="14.60" font-family="Liberation Serif" font-style="normal" textLength="24.46" lengthAdjust="spacingAndGlyphs" fill="#262626" >1.00</text>
<text x="532.30" y="30.80" font-size="14.60" font-family="Liberation Serif" font-style="normal" textLength="4.54" lengthAdjust="spacingAndGlyphs" fill="#262626" >(</text>
<text x="537.22" y="31.40" font-size="14.60" font-family="Liberation Serif" font-style="normal" textLength="9.94" lengthAdjust="spacingAndGlyphs" fill="#262626" >−</text>
<text x="547.96" y="30.80" font-size="14.60" font-family="Liberation Serif" font-style="normal" textLength="24.99" lengthAdjust="spacingAndGlyphs" fill="#262626" >0.68</text>
<text x="578.93" y="30.80" font-size="14.60" font-family="Liberation Serif" font-style="normal" textLength="12.12" lengthAdjust="spacingAndGlyphs" fill="#262626" >+</text>
<text x="592.98" y="30.80" font-size="14.60" font-family="Liberation Serif" font-style="normal" textLength="23.77" lengthAdjust="spacingAndGlyphs" fill="#262626" >0.69</text>
<text x="617.50" y="30.80" font-size="14.60" font-family="Liberation Serif" font-style="normal" textLength="5.19" lengthAdjust="spacingAndGlyphs" fill="#262626" >)</text>
<text x="434.31" y="51.60" font-size="14.60" font-family="Liberation Serif" font-style="italic" textLength="7.59" lengthAdjust="spacingAndGlyphs" fill="#262626" >μ</text>
<text x="441.08" y="53.90" font-size="10.40" font-family="Liberation Serif" font-style="normal" textLength="20.75" lengthAdjust="spacingAndGlyphs" fill="#262626" >stat.</text>
<text x="488.64" y="52.20" font-size="14.60" font-family="Liberation Serif" font-style="normal" textLength="12.00" lengthAdjust="spacingAndGlyphs" fill="#262626" >=</text>
<text x="503.07" y="51.60" font-size="14.60" font-family="Liberation Serif" font-style="normal" textLength="24.46" lengthAdjust="spacingAndGlyphs" fill="#262626" >1.00</text>
<text x="532.30" y="51.60" font-size="14.60" font-family="Liberation Serif" font-style="normal" textLength="4.54" lengthAdjust="spacingAndGlyphs" fill="#262626" >(</text>
<text x="537.22" y="52.20" font-size="14.60" font-family="Liberation Serif" font-style="normal" textLength="9.94" lengthAdjust="spacingAndGlyphs" fill="#262626" >−</text>
<text x="547.96" y="51.60" font-size="14.60" font-family="Liberation Serif" font-style="normal" textLength="25.03" lengthAdjust="spacingAndGlyphs" fill="#262626" >0.49</text>
<text x="578.93" y="51.60" font-size="14.60" font-family="Liberation Serif" font-style="normal" textLength="12.12" lengthAdjust="spacingAndGlyphs" fill="#262626" >+</text>
<text x="592.98" y="51.60" font-size="14.60" font-family="Liberation Serif" font-style="normal" textLength="23.73" lengthAdjust="spacingAndGlyphs" fill="#262626" >0.50</text>
<text x="617.50" y="51.60" font-size="14.60" font-family="Liberation Serif" font-style="normal" textLength="5.19" lengthAdjust="spacingAndGlyphs" fill="#262626" >)</text>
</g>
</svg>
</div></body></html>
